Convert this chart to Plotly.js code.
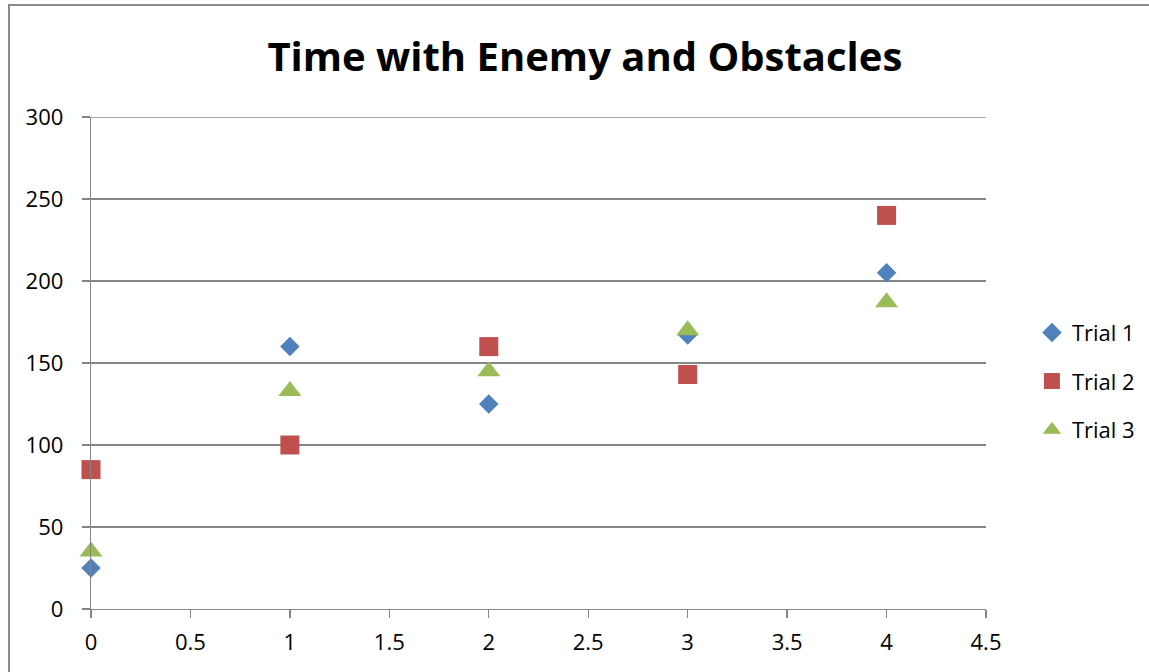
<!DOCTYPE html>
<html>
<head>
<meta charset="utf-8">
<script src="https://cdn.plot.ly/plotly-3.0.1.min.js"></script>
<style>
  html, body { margin: 0; padding: 0; background: #fff; }
  #wrap { position: relative; width: 1149px; height: 672px; overflow: hidden; }
  #chart { width: 1149px; height: 672px; }
  #frame {
    position: absolute; left: 8px; top: 4px; width: 1200px; height: 720px;
    border: 2px solid #8a8a8a; pointer-events: none; box-sizing: border-box;
  }
</style>
</head>
<body>
<div id="wrap">
  <div id="chart"></div>
  <div id="frame"></div>
</div>
<script>
// Level index on the x axis, time on the y axis
const levels = [0, 1, 2, 3, 4];
const trial1 = [25, 160, 125, 167, 205];
const trial2 = [85, 100, 160, 143, 240];
const trial3 = [35, 133, 145, 170, 187];
const seriesNames = ['Trial 1', 'Trial 2', 'Trial 3'];
const xTicks = [0, 0.5, 1, 1.5, 2, 2.5, 3, 3.5, 4, 4.5];
const yTicks = [0, 50, 100, 150, 200, 250, 300];

const font = 'Open Sans, Liberation Sans, sans-serif';
const gridGray = '#868686';

function series(name, values, color, symbol, size) {
  return {
    type: 'scatter', mode: 'markers', name: name, legendgroup: name,
    x: levels, y: values, cliponaxis: false,
    marker: { color: color, symbol: symbol, size: size, line: { width: 0 } },
    hoverinfo: 'x+y+name'
  };
}

const data = [
  series(seriesNames[0], trial1, '#4F81BD', 'diamond', 15),
  series(seriesNames[1], trial2, '#C0504D', 'square', 19),
  series(seriesNames[2], trial3, '#9BBB59', 'triangle-up', 20)
];

// gridline along the top of the value range (Plotly skips the one on the edge)
const yMax = yTicks[yTicks.length - 1];

const layout = {
  width: 1149, height: 672,
  margin: { l: 91, r: 163, t: 117, b: 63, pad: 0, autoexpand: false },
  paper_bgcolor: '#fff', plot_bgcolor: '#fff',
  font: { family: font, size: 22, color: '#000' },
  title: {
    text: '<b>Time with Enemy and Obstacles</b>',
    font: { family: font, size: 40, color: '#000' },
    xref: 'container', x: 0.509, xanchor: 'center',
    yref: 'container', y: 1 - 57 / 672, yanchor: 'middle'
  },
  xaxis: {
    range: [0, 4.5], tickmode: 'array', tickvals: xTicks,
    ticktext: xTicks.map(String),
    showgrid: false, zeroline: false,
    showline: true, linecolor: gridGray, linewidth: 1.3,
    ticks: 'outside', ticklen: 8, tickwidth: 1.3, tickcolor: gridGray,
    tickfont: { family: font, size: 22, color: '#000' },
    ticklabelstandoff: 5,
    fixedrange: true
  },
  yaxis: {
    range: [0, yMax], tickmode: 'array', tickvals: yTicks,
    ticktext: yTicks.map(String),
    showgrid: true, gridcolor: gridGray, gridwidth: 1.3,
    zeroline: false,
    showline: true, linecolor: gridGray, linewidth: 1.3,
    ticks: 'outside', ticklen: 8, tickwidth: 1.3, tickcolor: gridGray,
    tickfont: { family: font, size: 22, color: '#000' },
    ticklabelstandoff: 14,
    fixedrange: true
  },
  shapes: [{
    type: 'line', xref: 'paper', x0: 0, x1: 1, yref: 'y', y0: yMax, y1: yMax,
    line: { color: gridGray, width: 1.3 }, layer: 'below'
  }],
  showlegend: true,
  legend: {
    x: 1.0513, xanchor: 'left', y: 0.463, yanchor: 'middle',
    font: { family: font, size: 22, color: '#000' },
    bgcolor: 'rgba(0,0,0,0)', borderwidth: 0,
    tracegroupgap: 17, itemwidth: 30
  }
};

Plotly.newPlot('chart', data, layout, { displayModeBar: false, staticPlot: true });
</script>
</body>
</html>
